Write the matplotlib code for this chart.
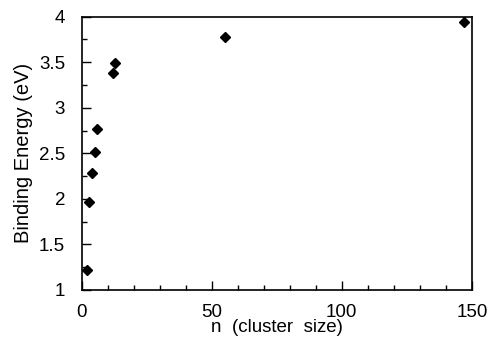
import matplotlib
matplotlib.use("Agg")
import matplotlib.pyplot as plt
from matplotlib.ticker import MultipleLocator

# cluster size and binding energy
n_size = [2, 3, 4, 5, 6, 12, 13, 55, 147]
binding_energy = [1.22, 1.96, 2.28, 2.51, 2.77, 3.38, 3.49, 3.78, 3.94]

plt.rcParams["font.family"] = ["Liberation Sans", "DejaVu Sans"]

fig = plt.figure(figsize=(4.92, 3.41), dpi=100)
ax = fig.add_axes([0.166, 0.150, 0.793, 0.801])

ax.plot(n_size, binding_energy, linestyle="none", marker="D",
        markersize=5, color="black")

ax.set_xlim(0, 150)
ax.set_ylim(1, 4)
ax.xaxis.set_major_locator(MultipleLocator(50))
ax.xaxis.set_minor_locator(MultipleLocator(10))
ax.yaxis.set_major_locator(MultipleLocator(0.5))
ax.yaxis.set_minor_locator(MultipleLocator(0.25))
ax.yaxis.set_major_formatter(plt.FuncFormatter(lambda v, p: f"{v:g}"))

ax.tick_params(which="both", direction="in", top=False, right=False,
               labelsize=13.5, width=1.0)
ax.tick_params(which="major", length=6.5)
ax.tick_params(axis="x", which="major", pad=10)
ax.tick_params(axis="y", which="major", pad=12)
ax.tick_params(which="minor", length=3.5)
for s in ax.spines.values():
    s.set_linewidth(1.2)

ax.set_xlabel("n  (cluster  size)", fontsize=13.5, labelpad=-1)
ax.set_ylabel("Binding Energy (eV)", fontsize=14.5, labelpad=4)

fig.savefig("out.png", dpi=100)
